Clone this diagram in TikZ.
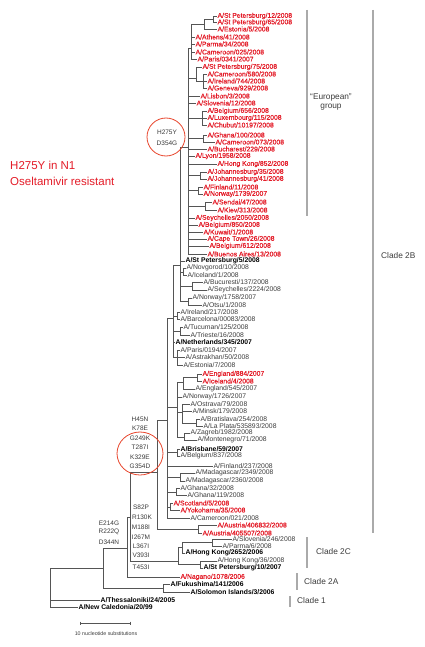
\documentclass[tikz,border=0pt]{standalone}
\usepackage{fontspec}
\setmainfont{Liberation Sans}
\newfontfamily\redleaffont[FakeBold=0.6]{Liberation Sans}
\usetikzlibrary{shapes.geometric,calc}
\definecolor{tred}{RGB}{228,28,40}
\definecolor{tline}{RGB}{85,85,85}
\definecolor{ttext}{RGB}{60,60,60}
\definecolor{bgray}{RGB}{170,170,170}
\definecolor{cred}{RGB}{232,70,45}
\begin{document}
\begin{tikzpicture}[x=1pt,y=-1pt,
  leaf/.style={anchor=west,inner sep=0.4pt,font=\fontsize{6.8}{7}\selectfont,text=ttext},
  rleaf/.style={leaf,text=tred,font=\redleaffont\fontsize{6.8}{7}\selectfont},
  bleaf/.style={leaf,text=black,font=\fontsize{6.8}{7}\selectfont\bfseries},
  br/.style={draw=tline,line width=0.6pt},
  mut/.style={font=\fontsize{6.5}{7}\selectfont,text=ttext,inner sep=0.3pt},
  bracket/.style={draw=bgray,line width=1.3pt},
  cladelbl/.style={anchor=west,font=\fontsize{8.3}{9}\selectfont,text=ttext,inner sep=0pt},
  ring/.style={draw=cred,line width=0.8pt}]
\useasboundingbox[fill=white] (0,0) rectangle (424,647);
% ---- leaves
\node[rleaf] (L1) at (217,16) {A/St Petersburg/12/2008};
\node[rleaf] (L2) at (217,22.5) {A/St Petersburg/65/2008};
\node[rleaf] (L3) at (217,29) {A/Estonia/5/2008};
\node[rleaf] (L4) at (195,37) {A/Athens/41/2008};
\node[rleaf] (L5) at (195,44) {A/Parma/34/2008};
\node[rleaf] (L6) at (195,52) {A/Cameroon/025/2008};
\node[rleaf] (L7) at (197,59) {A/Paris/0341/2007};
\node[rleaf] (L8) at (202,67) {A/St Petersburg/75/2008};
\node[rleaf] (L9) at (207,74) {A/Cameroon/580/2008};
\node[rleaf] (L10) at (207,81) {A/Ireland/744/2008};
\node[rleaf] (L11) at (207,88) {A/Geneva/929/2008};
\node[rleaf] (L12) at (200,96) {A/Lisbon/3/2008};
\node[rleaf] (L13) at (196,103) {A/Slovenia/12/2008};
\node[rleaf] (L14) at (207,111) {A/Belgium/656/2008};
\node[rleaf] (L15) at (207,118) {A/Luxembourg/115/2008};
\node[rleaf] (L16) at (207,125) {A/Chubut/10197/2008};
\node[rleaf] (L17) at (207,135) {A/Ghana/100/2008};
\node[rleaf] (L18) at (215,142) {A/Cameroon/073/2008};
\node[rleaf] (L19) at (207,149) {A/Bucharest/229/2008};
\node[rleaf] (L20) at (195,156) {A/Lyon/1958/2008};
\node[rleaf] (L21) at (217,164) {A/Hong Kong/852/2008};
\node[rleaf] (L22) at (207,172) {A/Johannesburg/35/2008};
\node[rleaf] (L23) at (207,179) {A/Johannesburg/41/2008};
\node[rleaf] (L24) at (203,187) {A/Finland/11/2008};
\node[rleaf] (L25) at (203,194) {A/Norway/1739/2007};
\node[rleaf] (L26) at (212,202) {A/Sendai/47/2008};
\node[rleaf] (L27) at (217,210) {A/Kiev/313/2008};
\node[rleaf] (L28) at (195,218) {A/Seychelles/2050/2008};
\node[rleaf] (L29) at (198,225) {A/Belgium/850/2008};
\node[rleaf] (L30) at (203,232) {A/Kuwait/1/2008};
\node[rleaf] (L31) at (207,239) {A/Cape Town/26/2008};
\node[rleaf] (L32) at (209,246) {A/Belgium/612/2008};
\node[rleaf] (L33) at (207,254) {A/Buenos Aires/13/2008};
\node[bleaf] (L34) at (185,261) {A/St Petersburg/5/2008};
\node[leaf] (L35) at (186,268) {A/Novgorod/10/2008};
\node[leaf] (L36) at (187,275) {A/Iceland/1/2008};
\node[leaf] (L37) at (203,282) {A/Bucuresti/137/2008};
\node[leaf] (L38) at (207,290) {A/Seychelles/2224/2008};
\node[leaf] (L39) at (192,298) {A/Norway/1758/2007};
\node[leaf] (L40) at (202,305) {A/Otsu/1/2008};
\node[leaf] (L41) at (180,312) {A/Ireland/217/2008};
\node[leaf] (L42) at (180,319) {A/Barcelona/00083/2008};
\node[leaf] (L43) at (183,327) {A/Tucuman/125/2008};
\node[leaf] (L44) at (190,335) {A/Trieste/16/2008};
\node[bleaf] (L45) at (175,342) {A/Netherlands/345/2007};
\node[leaf] (L46) at (180,350) {A/Paris/0194/2007};
\node[leaf] (L47) at (185,357) {A/Astrakhan/50/2008};
\node[leaf] (L48) at (183,365) {A/Estonia/7/2008};
\node[rleaf] (L49) at (202,374) {A/England/884/2007};
\node[rleaf] (L50) at (202,381) {A/Iceland/4/2008};
\node[leaf] (L51) at (195,389) {A/England/545/2007};
\node[leaf] (L52) at (182,397) {A/Norway/1726/2007};
\node[leaf] (L53) at (190,404) {A/Ostrava/79/2008};
\node[leaf] (L54) at (192,411) {A/Minsk/179/2008};
\node[leaf] (L55) at (200,419) {A/Bratislava/254/2008};
\node[leaf] (L56) at (203,426) {A/La Plata/535893/2008};
\node[leaf] (L57) at (190,433) {A/Zagreb/1982/2008};
\node[leaf] (L58) at (197,440) {A/Montenegro/71/2008};
\node[bleaf] (L59) at (180,449) {A/Brisbane/59/2007};
\node[leaf] (L60) at (180,456) {A/Belgium/837/2008};
\node[leaf] (L61) at (213,466) {A/Finland/237/2008};
\node[leaf] (L62) at (195,473) {A/Madagascar/2349/2008};
\node[leaf] (L63) at (185,481) {A/Madagascar/2360/2008};
\node[leaf] (L64) at (180,488) {A/Ghana/32/2008};
\node[leaf] (L65) at (187,495) {A/Ghana/119/2008};
\node[rleaf] (L66) at (173,503) {A/Scotland/5/2008};
\node[rleaf] (L67) at (180,510) {A/Yokohama/35/2008};
\node[leaf] (L68) at (190,518) {A/Cameroon/021/2008};
\node[rleaf] (L69) at (217,525) {A/Austria/406832/2008};
\node[rleaf] (L70) at (202,533) {A/Austria/405507/2008};
\node[leaf] (L71) at (232,539) {A/Slovenia/246/2008};
\node[leaf] (L72) at (222,546) {A/Parma/6/2008};
\node[bleaf] (L73) at (185,553) {A/Hong Kong/2652/2006};
\node[leaf] (L74) at (217,561) {A/Hong Kong/36/2008};
\node[bleaf] (L75) at (203,568) {A/St Petersburg/10/2007};
\node[rleaf] (L76) at (180,577) {A/Nagano/1078/2006};
\node[bleaf] (L77) at (170,584) {A/Fukushima/141/2006};
\node[bleaf] (L78) at (190,592) {A/Solomon Islands/3/2006};
\node[bleaf] (L79) at (100,600) {A/Thessaloniki/24/2005};
\node[bleaf] (L80) at (78,607) {A/New Caledonia/20/99};
% ---- internal nodes
\coordinate (R) at (50,590);
\coordinate (B) at (103,568);
\coordinate (C) at (127,548);
\coordinate (D) at (130,517);
\coordinate (A2) at (163,588);
\coordinate (B2) at (157,472);
\coordinate (N2C) at (178,561);
\coordinate (K) at (182,547);
\coordinate (Lp) at (212,542);
\coordinate (M) at (200,564);
\coordinate (Au) at (198,529);
\coordinate (B3) at (167,420);
\coordinate (U1) at (173,318);
\coordinate (UE) at (180,265);
\coordinate (IB) at (177,316);
\coordinate (PAE) at (177,357);
\coordinate (MG) at (177,407);
\coordinate (BB) at (177,452);
\coordinate (Mad) at (180,477);
\coordinate (Gh) at (176,492);
\coordinate (SY) at (170,507);
\coordinate (N1) at (183,272);
\coordinate (N2) at (192,286);
\coordinate (N3) at (188,301);
\coordinate (N4) at (180,331);
\coordinate (N5) at (183,382);
\coordinate (EN) at (197,377);
\coordinate (N6) at (182,412);
\coordinate (BL) at (196,423);
\coordinate (N7) at (184,437);
\coordinate (EU) at (188,147);
\coordinate (E1) at (191,48);
\coordinate (Aa) at (204,24);
\coordinate (Bb) at (213,19);
\coordinate (Cc) at (196,78);
\coordinate (Dd) at (203,81);
\coordinate (Ee) at (202,118);
\coordinate (Ff) at (203,138);
\coordinate (Gg) at (200,175);
\coordinate (Hh) at (198,190);
\coordinate (Ii) at (205,206);
% ---- branches
\foreach \p/\c in {R/B,R/L79,R/L80,B/C,B/A2,A2/L77,A2/L78,C/D,C/L76,D/B2,D/N2C,
  N2C/K,N2C/M,K/Lp,K/L73,Lp/L71,Lp/L72,M/L74,M/L75,B2/B3,B2/Au,Au/L69,Au/L70,
  B3/U1,B3/MG,B3/BB,B3/L61,B3/Mad,B3/Gh,B3/SY,B3/L68,BB/L59,BB/L60,
  Mad/L62,Mad/L63,Gh/L64,Gh/L65,SY/L66,SY/L67,
  U1/UE,U1/IB,U1/N4,U1/L45,U1/PAE,IB/L41,IB/L42,PAE/L46,PAE/L47,PAE/L48,
  UE/EU,UE/L34,UE/N1,UE/N2,UE/N3,
  MG/N5,MG/L52,MG/N6,MG/N7,
  N1/L35,N1/L36,N2/L37,N2/L38,N3/L39,N3/L40,N4/L43,N4/L44,N5/EN,N5/L51,EN/L49,EN/L50,
  N6/L53,N6/L54,N6/BL,BL/L55,BL/L56,N7/L57,N7/L58,
  EU/E1,EU/Cc,EU/L12,EU/L13,EU/Ee,EU/Ff,EU/L19,EU/L20,EU/L21,EU/Gg,EU/Hh,EU/Ii,
  EU/L28,EU/L29,EU/L30,EU/L31,EU/L32,EU/L33,
  E1/Aa,E1/L4,E1/L5,E1/L6,E1/L7,Aa/Bb,Aa/L3,Bb/L1,Bb/L2,Cc/L8,Cc/Dd,Dd/L9,Dd/L10,Dd/L11,
  Ee/L14,Ee/L15,Ee/L16,Ff/L17,Ff/L18,Gg/L22,Gg/L23,Hh/L24,Hh/L25,Ii/L26,Ii/L27}
  \draw[br] (\p) |- (\c);
% ---- mutation labels
\node[mut] (m1) at (167,132) {H275Y};
\node[mut] (m2) at (167,143) {D354G};
\node[mut] (m3) at (140,419) {H45N};
\node[mut] (m4) at (140,428) {K78E};
\node[mut] (m5) at (140,438.5) {G249K};
\node[mut] (m6) at (140,447.5) {T287I};
\node[mut] (m7) at (140,457) {K329E};
\node[mut] (m8) at (140,466) {G354D};
\node[mut] (m9) at (141,507) {S82P};
\node[mut] (m10) at (142,517) {R130K};
\node[mut] (m11) at (141,527) {M188I};
\node[mut] (m12) at (141,537) {I267M};
\node[mut] (m13) at (141,546) {L367I};
\node[mut] (m14) at (141,555) {V393I};
\node[mut] (m15) at (141,567) {T453I};
\node[mut] (m16) at (109,523) {E214G};
\node[mut] (m17) at (109,532) {R222Q};
\node[mut] (m18) at (109,542) {D344N};
\node[ring,circle,minimum size=38pt,inner sep=0pt] (c1) at (166,137) {};
\node[ring,ellipse,minimum width=46pt,minimum height=43pt,inner sep=0pt] (c2) at (140,453.5) {};
% ---- resistant note
\node[anchor=west,text=tred,font=\fontsize{11.5}{12}\selectfont,inner sep=0pt] (n1) at (10,165) {H275Y in N1};
\node[anchor=west,text=tred,font=\fontsize{11.5}{12}\selectfont,inner sep=0pt] (n2) at (10,181) {Oseltamivir resistant};
% ---- clade brackets
\coordinate (eu1) at (307,10); \coordinate (eu2) at (307,216);
\draw[bracket] (eu1) -- (eu2);
\node[font=\fontsize{8.3}{9}\selectfont,text=ttext,align=center] (eul) at (331,102) {“European”\\group};
\coordinate (b1) at (373,10); \coordinate (b2) at (373,533);
\draw[bracket] (b1) -- (b2);
\node[cladelbl] (c2b) at (381,256) {Clade 2B};
\coordinate (cc1) at (307,537); \coordinate (cc2) at (307,568);
\draw[bracket] (cc1) -- (cc2);
\node[cladelbl] (c2c) at (316,552) {Clade 2C};
\coordinate (a1) at (297,573); \coordinate (a2) at (297,590);
\draw[bracket] (a1) -- (a2);
\node[cladelbl] (c2a) at (304,582) {Clade 2A};
\coordinate (o1) at (290,596); \coordinate (o2) at (290,607);
\draw[bracket] (o1) -- (o2);
\node[cladelbl] (c1l) at (297,601) {Clade 1};
% ---- scale bar
\coordinate (s1) at (80,623); \coordinate (s2) at (130,623);
\draw[br] (s1) -- (s2);
\draw[br] ($(s1)+(0,-1.5)$) -- ($(s1)+(0,1.5)$);
\draw[br] ($(s2)+(0,-1.5)$) -- ($(s2)+(0,1.5)$);
\node[font=\fontsize{5.3}{6}\selectfont,text=ttext] (sl) at (106,634) {10 nucleotide substitutions};
\end{tikzpicture}
\end{document}
